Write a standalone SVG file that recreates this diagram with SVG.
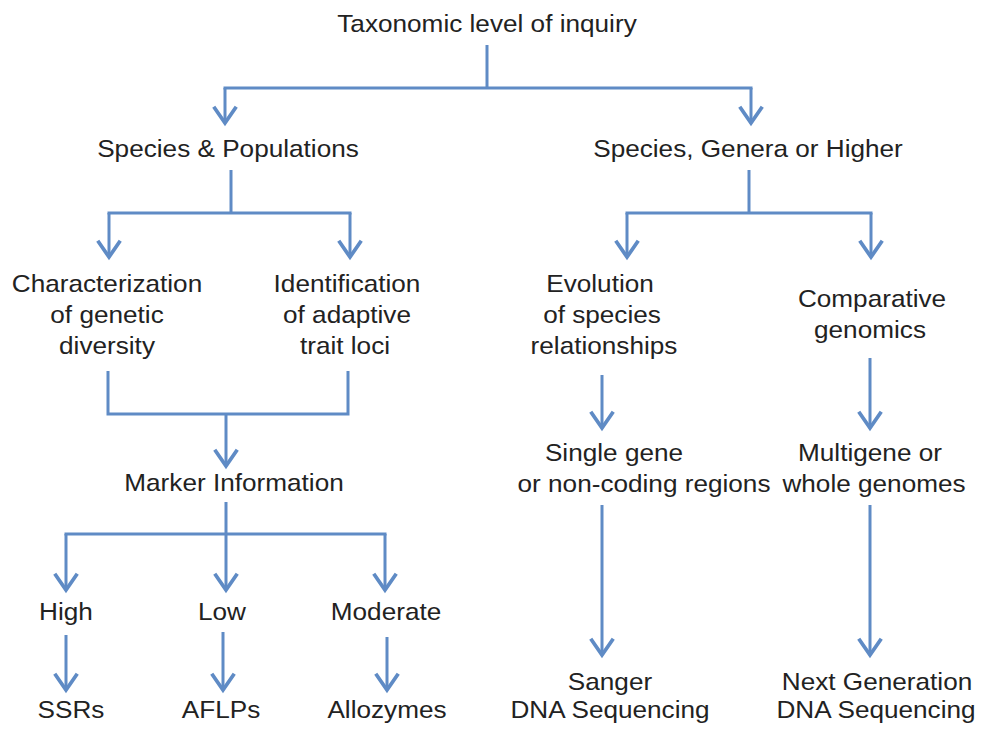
<svg xmlns="http://www.w3.org/2000/svg" width="983" height="731" viewBox="0 0 983 731">
<defs>
<style>
.c path{fill:none;stroke:#5f8bc5;stroke-width:3;stroke-linecap:butt;stroke-linejoin:miter}
.c path.a{marker-end:url(#v)}
text{font-family:"Liberation Sans",Arial,Helvetica,sans-serif;font-size:24px;fill:#222;text-anchor:middle}
</style>
<marker id="v" markerUnits="userSpaceOnUse" markerWidth="30" markerHeight="30" refX="0" refY="0" viewBox="-15 -12 18 24" orient="auto" overflow="visible">
<path d="M-13,-9 L0,0 L-13,9" fill="none" stroke="#5f8bc5" stroke-width="3" stroke-linejoin="miter"/>
</marker>
</defs>
<rect width="983" height="731" fill="#fff"/>
<g class="c" id="connectors">
<path d="M487,45 V88"/>
<path d="M223.5,88 H752.5"/>
<path class="a" d="M225,88 V123"/>
<path class="a" d="M751,88 V123"/>
<path d="M231,170 V213"/>
<path d="M107.5,213 H351.5"/>
<path class="a" d="M109,213 V257"/>
<path class="a" d="M350,213 V257"/>
<path d="M749,170 V213"/>
<path d="M625.5,213 H872.5"/>
<path class="a" d="M627,213 V257"/>
<path class="a" d="M871,213 V257"/>
<path d="M108,371 V414 H348 V371"/>
<path class="a" d="M226,414 V466"/>
<path d="M226,502 V534"/>
<path d="M64.5,534 H386.5"/>
<path class="a" d="M66,534 V590"/>
<path class="a" d="M226,534 V590"/>
<path class="a" d="M385,534 V590"/>
<path class="a" d="M66,635 V690"/>
<path class="a" d="M223,632 V690"/>
<path class="a" d="M387,637 V690"/>
<path class="a" d="M602,375 V428"/>
<path class="a" d="M602,505 V655"/>
<path class="a" d="M870,358 V428"/>
<path class="a" d="M870,505 V655"/>
</g>
<g id="n-root"><text transform="translate(487,32) scale(1.09,1)">Taxonomic level of inquiry</text></g>
<g id="n-species-pop"><text transform="translate(228,157) scale(1.09,1)">Species &amp; Populations</text></g>
<g id="n-species-higher"><text transform="translate(748,157) scale(1.09,1)">Species, Genera or Higher</text></g>
<g id="n-characterization">
<text transform="translate(107,292) scale(1.09,1)">Characterization</text>
<text transform="translate(107,323) scale(1.09,1)">of genetic</text>
<text transform="translate(107,354) scale(1.09,1)">diversity</text>
</g>
<g id="n-identification">
<text transform="translate(347,292) scale(1.09,1)">Identification</text>
<text transform="translate(347,323) scale(1.09,1)">of adaptive</text>
<text transform="translate(345,354) scale(1.09,1)">trait loci</text>
</g>
<g id="n-evolution">
<text transform="translate(600,292) scale(1.09,1)">Evolution</text>
<text transform="translate(602,323) scale(1.09,1)">of species</text>
<text transform="translate(604,354) scale(1.09,1)">relationships</text>
</g>
<g id="n-comparative">
<text transform="translate(872,307) scale(1.09,1)">Comparative</text>
<text transform="translate(870,338) scale(1.09,1)">genomics</text>
</g>
<g id="n-marker"><text transform="translate(234,491) scale(1.09,1)">Marker Information</text></g>
<g id="n-high"><text transform="translate(66,620) scale(1.09,1)">High</text></g>
<g id="n-low"><text transform="translate(222,620) scale(1.09,1)">Low</text></g>
<g id="n-moderate"><text transform="translate(386,620) scale(1.09,1)">Moderate</text></g>
<g id="n-ssrs"><text transform="translate(71,718) scale(1.09,1)">SSRs</text></g>
<g id="n-aflps"><text transform="translate(221,718) scale(1.09,1)">AFLPs</text></g>
<g id="n-allozymes"><text transform="translate(387,718) scale(1.09,1)">Allozymes</text></g>
<g id="n-single">
<text transform="translate(614,461) scale(1.09,1)">Single gene</text>
<text transform="translate(644,492) scale(1.09,1)">or non-coding regions</text>
</g>
<g id="n-multigene">
<text transform="translate(870,461) scale(1.09,1)">Multigene or</text>
<text transform="translate(874,492) scale(1.09,1)">whole genomes</text>
</g>
<g id="n-sanger">
<text transform="translate(610,690) scale(1.09,1)">Sanger</text>
<text transform="translate(610,718) scale(1.09,1)">DNA Sequencing</text>
</g>
<g id="n-nextgen">
<text transform="translate(877,690) scale(1.09,1)">Next Generation</text>
<text transform="translate(876,718) scale(1.09,1)">DNA Sequencing</text>
</g>
</svg>
